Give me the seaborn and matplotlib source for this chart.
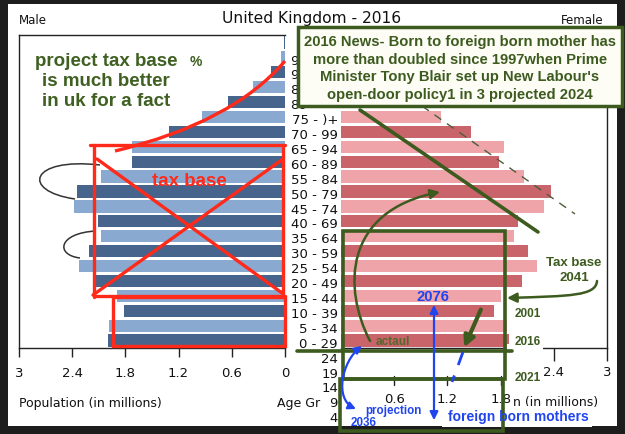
import matplotlib
matplotlib.use("Agg")
import matplotlib.pyplot as plt
import matplotlib.transforms as mtransforms
from matplotlib.path import Path
from matplotlib.patches import FancyArrowPatch, Rectangle, PathPatch
import seaborn as sns
import pandas as pd

sns.set_theme(style="white")
plt.rcParams['font.family'] = ['DejaVu Sans']

# ---------------- data ----------------
ages = ["0-4", "5-9", "10-14", "15-19", "20-24", "25-29", "30-34", "35-39",
        "40-44", "45-49", "50-54", "55-59", "60-64", "65-69", "70-74", "75-79",
        "80-84", "85-89", "90-94", "95-99", "100+"]
male = [2.00, 1.98, 1.82, 1.89, 2.14, 2.32, 2.21, 2.07, 2.11, 2.38, 2.35,
        2.07, 1.72, 1.73, 1.31, 0.94, 0.64, 0.36, 0.16, 0.05, 0.01]
female = [1.89, 1.87, 1.73, 1.80, 2.04, 2.21, 2.11, 1.95, 2.00, 2.29, 2.37,
          2.06, 1.78, 1.84, 1.47, 1.13, 0.90, 0.58, 0.30, 0.09, 0.02]
# visible age labels (the upper ones are partly hidden by the news box)
row_labels = ["0 - 29", "5 - 34", "10 - 39", "15 - 44", "20 - 49", "25 - 54",
              "30 - 59", "35 - 64", "40 - 69", "45 - 74", "50 - 79", "55 - 84",
              "60 - 89", "65 - 94", "70 - 99", "75 - )+"]
hidden_labels = ["80", "8", "9", "9"]
extra_labels = ["24", "19", "14", "9", "4"]
left_ticks = [3, 2.4, 1.8, 1.2, 0.6, 0]
left_tick_labels = ["3", "2.4", "1.8", "1.2", "0.6", "0"]
right_ticks = [2.4, 3]
right_tick_labels = ["2.4", "3"]
shifted_ticks = [0.6, 1.2, 1.8]
shifted_tick_labels = ["0.6", "1.2", "1.8"]

title = "United Kingdom - 2016"
news_lines = ["2016 News- Born to foreign born mother has",
              "more than doubled since 1997when Prime",
              "Minister Tony Blair set up New Labour's",
              "open-door policy1 in 3 projected 2024"]

M_DARK, M_LIGHT = "#46648c", "#89a9d1"
F_DARK, F_LIGHT = "#c9646b", "#eea4a9"
GREEN = "#3d5b1f"
RED = "#ff2a1a"
BLUE = "#1f44f0"

W, H = 625, 435
fig = plt.figure(figsize=(W / 100, H / 100), dpi=100)
fig.patch.set_facecolor("#1d1d1d")
fig.add_artist(Rectangle((8 / W, 1 - 427 / H), 609 / W, 422 / H,
                         transform=fig.transFigure, facecolor="white",
                         edgecolor="none", zorder=-5))

def fy(py):
    return 1 - py / H

df = pd.DataFrame({"age": ages, "male": male, "female": female})
order = ages[::-1]
male_pal = {a: (M_DARK if i % 2 == 0 else M_LIGHT) for i, a in enumerate(ages)}
fem_pal = {a: (F_DARK if i % 2 == 0 else F_LIGHT) for i, a in enumerate(ages)}

axL = fig.add_axes([19 / W, fy(349), 266 / W, 313 / H])
axR = fig.add_axes([341 / W, fy(349), 266 / W, 313 / H])
for ax in (axL, axR):
    ax.set_facecolor("none")

sns.barplot(data=df, x="male", y="age", order=order, hue="age",
            palette=male_pal, legend=False, ax=axL, width=0.82,
            edgecolor="none", saturation=1)
sns.barplot(data=df, x="female", y="age", order=order, hue="age",
            palette=fem_pal, legend=False, ax=axR, width=0.82,
            edgecolor="none", saturation=1)

axL.set_xlim(3, 0)
axR.set_xlim(0, 3)
for ax in (axL, axR):
    ax.set_ylim(len(ages) - 0.5, -0.5)
    ax.set_ylabel("")
    ax.set_xlabel("")
    ax.set_yticks([])
    for s in ax.spines.values():
        s.set_color("#222222")
        s.set_linewidth(1)
axL.spines["right"].set_visible(False)
axR.spines["left"].set_visible(False)

axL.set_xticks(left_ticks)
axL.set_xticklabels(left_tick_labels)
axR.set_xticks(right_ticks)
axR.set_xticklabels(right_tick_labels)
axL.tick_params(axis="x", direction="out", length=6.5, width=1,
                color="#222222", labelsize=9.5, pad=6.5, bottom=True,
                labelcolor="#111111")
axR.tick_params(axis="x", direction="out", length=9, width=1,
                color="#222222", labelsize=9.5, pad=3, bottom=True,
                labelcolor="#111111")

# shifted tick copy on the female side
tr_sh = mtransforms.blended_transform_factory(axR.transData, fig.transFigure)
for v, lab in zip(shifted_ticks, shifted_tick_labels):
    axR.plot([v, v], [fy(377), fy(386)], transform=tr_sh, color="#222222",
             lw=1, clip_on=False)
    axR.text(v, fy(400), lab, transform=tr_sh, ha="center", va="center",
             fontsize=9.5, color="#111111")

# age labels
tr_lab = mtransforms.blended_transform_factory(fig.transFigure, axL.transData)
n = len(ages)
off = 0.18
for i, lab in enumerate(row_labels):
    axL.text(338 / W, n - 1 - i + off, lab, transform=tr_lab, ha="right",
             va="center", fontsize=9.5, color="#111111", clip_on=False)
for i, lab in enumerate(hidden_labels):
    r = len(row_labels) + i
    axL.text(290 / W, n - 1 - r + off, lab, transform=tr_lab, ha="left",
             va="center", fontsize=9.5, color="#111111", clip_on=False)
for k, lab in enumerate(extra_labels):
    axL.text(338 / W, n + k + off, lab, transform=tr_lab, ha="right",
             va="center", fontsize=9.5, color="#111111", clip_on=False)

# texts of the chart frame
fig.text(312 / W, fy(19), title, ha="center", va="center", fontsize=11.2,
         color="#111111")
fig.text(19 / W, fy(21), "Male", ha="left", va="center", fontsize=8.5,
         color="#111111")
fig.text(604 / W, fy(21), "Female", ha="right", va="center", fontsize=8.5,
         color="#111111")
fig.text(19 / W, fy(404), "Population (in millions)", ha="left",
         va="center", fontsize=9, color="#111111")
fig.text(277 / W, fy(404), "Age Gr", ha="left", va="center", fontsize=9,
         color="#111111")

# ---------------- annotation overlay (pixel coords) ----------------
ov = fig.add_axes([0, 0, 1, 1], zorder=10)
ov.set_xlim(0, W)
ov.set_ylim(H, 0)
ov.axis("off")
ov.patch.set_alpha(0)

BF = "Liberation Sans"

ov.text(513, 403, "n (in millions)", ha="left", va="center", fontsize=9,
        color="#111111", zorder=2)

def bez(p0, c1, c2, p3):
    return Path([p0, c1, c2, p3],
                [Path.MOVETO, Path.CURVE4, Path.CURVE4, Path.CURVE4])

# black thin loops
for pth in (bez((100, 166), (30, 158), (20, 192), (75, 200)),
            bez((96, 232), (58, 234), (55, 256), (80, 259))):
    ov.add_patch(PathPatch(pth, fc="none", ec="#333333", lw=1.1, zorder=3))

# red annotations
ov.add_patch(PathPatch(Path([(115, 152), (232, 124), (285, 62)],
                            [Path.MOVETO, Path.CURVE3, Path.CURVE3]),
                       fc="none", ec=RED, lw=2.4, zorder=4))
ov.plot([90, 285], [146, 146], color=RED, lw=2.4, zorder=4)
ov.plot([94, 94], [146, 298], color=RED, lw=2.4, zorder=4)
ov.plot([283, 283], [146, 298], color=RED, lw=2.4, zorder=4)
ov.plot([94, 285], [297, 297], color=RED, lw=2.4, zorder=4)
ov.plot([97, 282], [160, 294], color=RED, lw=2.4, zorder=4)
ov.plot([283, 93], [160, 296], color=RED, lw=2.4, zorder=4)
ov.add_patch(Rectangle((113, 298), 172, 49, fc="none", ec=RED, lw=2.4,
                       zorder=4))
ov.text(189, 182, "tax base", ha="center", va="center", fontsize=13.5,
        fontweight="bold", family=BF, color=RED, zorder=5)

# green top-left text
ov.text(35, 61, "project tax base", ha="left", va="center", fontsize=13.5,
        fontweight="bold", family=BF, color="#3f6022", zorder=5)
ov.text(196, 62, "%", ha="center", va="center", fontsize=10,
        fontweight="bold", family=BF, color="#3f6022", zorder=5)
ov.text(42, 81, "is much better", ha="left", va="center", fontsize=13.5,
        fontweight="bold", family=BF, color="#3f6022", zorder=5)
ov.text(42, 102, "in uk for a fact", ha="left", va="center", fontsize=13.5,
        fontweight="bold", family=BF, color="#3f6022", zorder=5)

# news box
ov.add_patch(Rectangle((298, 28), 324, 79, fc="#fdfdf6", ec=GREEN, lw=2.5,
                       zorder=6))
for j, line in enumerate(news_lines):
    ov.text(460, 42 + 17.6 * j, line, ha="center", va="center",
            fontsize=10.6, fontweight="bold", family=BF, color=GREEN,
            zorder=7)

# white patch hiding part of the female axis line
ov.add_patch(Rectangle((507, 345), 36, 7, fc="white", ec="none", zorder=2))

# green lines and arrows
ov.plot([422, 575], [107, 215], color="#4d5d3d", lw=1, ls=(0, (6, 5)),
        zorder=4)
ov.plot([360, 538], [111, 233], color=GREEN, lw=2.6, zorder=5)
ov.add_patch(FancyArrowPatch(path=bez((370, 342), (343, 290), (343, 212),
                                      (440, 193)),
                             arrowstyle="-|>", mutation_scale=14,
                             color=GREEN, lw=1.8, zorder=5))
ov.add_patch(Rectangle((343, 232), 162, 148, fc="none", ec=GREEN, lw=2.6,
                       zorder=5))
ov.add_patch(Rectangle((340, 380), 163, 52, fc="none", ec=GREEN, lw=2.6,
                       zorder=5))
ov.plot([297, 512], [352, 352], color=GREEN, lw=2.6, zorder=5)
ov.add_patch(FancyArrowPatch(path=bez((597, 282), (596, 297), (570, 297),
                                      (507, 299)),
                             arrowstyle="-|>", mutation_scale=14,
                             color=GREEN, lw=1.8, zorder=5))
ov.add_patch(FancyArrowPatch((482, 308), (463, 351), arrowstyle="-|>",
                             mutation_scale=16, color=GREEN, lw=3,
                             zorder=5))
ov.text(574, 263, "Tax base", ha="center", va="center", fontsize=9.5,
        fontweight="bold", family=BF, color=GREEN, zorder=6)
ov.text(574, 278, "2041", ha="center", va="center", fontsize=9.5,
        fontweight="bold", family=BF, color=GREEN, zorder=6)
for yy, lab in ((314, "2001"), (342, "2016"), (378, "2021")):
    ov.text(515, yy, lab, ha="left", va="center", fontsize=8.5,
            fontweight="bold", family=BF, color=GREEN, zorder=6)
ov.text(376, 342, "actaul", ha="left", va="center", fontsize=8.5,
        fontweight="bold", family=BF, color="#55692c", zorder=6)

# blue annotations
ov.add_patch(Rectangle((468, 382), 32, 11, fc="white", ec="none", zorder=4))
ov.add_patch(Rectangle((442, 407), 150, 21, fc="white", ec="none", zorder=4))
ov.text(433, 297, "2076", ha="center", va="center", fontsize=10.7,
        fontweight="bold", family=BF, color=BLUE, zorder=6)
ov.add_patch(FancyArrowPatch((434, 303), (434, 424), arrowstyle="<|-|>",
                             mutation_scale=12, color=BLUE, lw=1.6,
                             zorder=6))
ov.text(448, 417, "foreign born mothers", ha="left", va="center",
        fontsize=10, fontweight="bold", family=BF, color=BLUE, zorder=6)
ov.text(365, 411, "projection", ha="left", va="center", fontsize=8.4,
        fontweight="bold", family=BF, color=BLUE, zorder=6)
ov.text(351, 423, "2036", ha="left", va="center", fontsize=8.4,
        fontweight="bold", family=BF, color=BLUE, zorder=6)
ov.add_patch(FancyArrowPatch(path=bez((362, 347), (342, 362), (334, 400),
                                      (356, 410)),
                             arrowstyle="<|-|>", mutation_scale=11,
                             color=BLUE, lw=1.6, zorder=6))
ov.plot([463, 452], [353, 383], color=BLUE, lw=2, ls=(0, (5, 4)), zorder=6)

fig.savefig("out.png", dpi=100, facecolor=fig.get_facecolor())
